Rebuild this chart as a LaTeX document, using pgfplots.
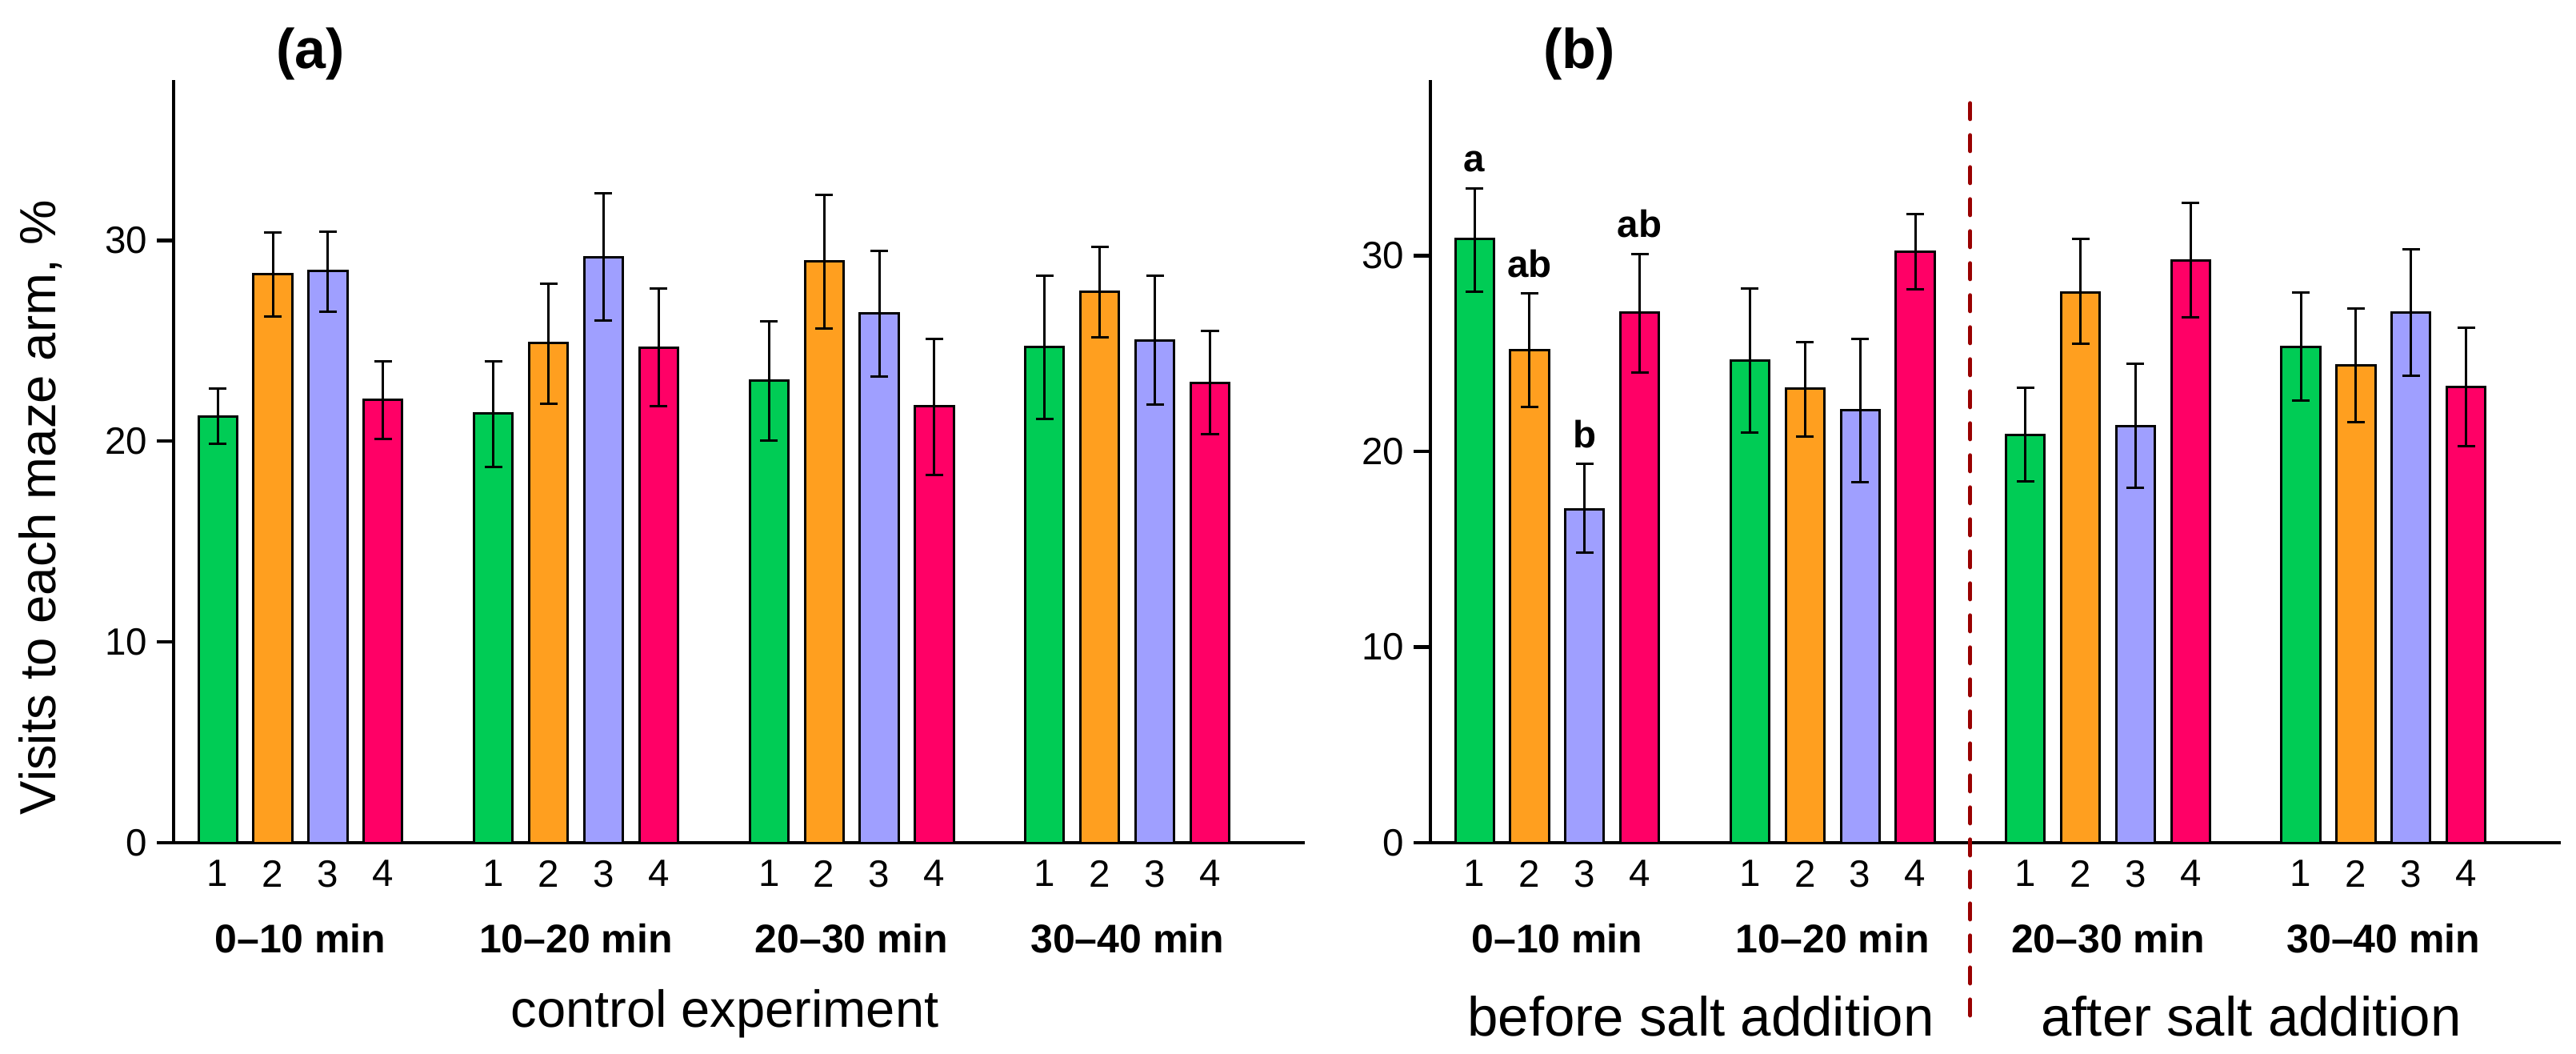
\documentclass[border=0pt]{standalone}
\usepackage{pgfplots}
\pgfplotsset{compat=1.18}
\usepackage{pgfplotstable}
\usepackage{fontspec}
\setmainfont{Liberation Sans}
\definecolor{cgreen}{HTML}{00CC55}
\definecolor{corange}{HTML}{FF9F1F}
\definecolor{clav}{HTML}{9F9FFF}
\definecolor{cpink}{HTML}{FF0066}
\definecolor{cdash}{HTML}{990000}

\pgfplotstableread{
x y ep em
0 21.24 1.36 1.37
5 21.37 2.61 2.64
10 23.01 2.94 2.98
15 24.68 3.55 3.58
}\AG
\pgfplotstableread{
x y ep em
1 28.33 2.07 2.13
6 24.88 2.95 3.01
11 28.96 3.31 3.34
16 27.42 2.25 2.24
}\AO
\pgfplotstableread{
x y ep em
2 28.46 1.97 2.01
7 29.16 3.18 3.17
12 26.35 3.11 3.14
17 25.02 3.21 3.18
}\AL
\pgfplotstableread{
x y ep em
3 22.04 1.94 1.94
8 24.65 2.94 2.91
13 21.74 3.34 3.41
18 22.88 2.60 2.55
}\AP
\pgfplotstableread{
x y ep em
0 30.86 2.58 2.68
5 24.64 3.68 3.68
10 20.86 2.40 2.41
15 25.33 2.78 2.75
}\BG
\pgfplotstableread{
x y ep em
1 25.19 2.89 2.92
6 23.20 2.40 2.44
11 28.14 2.72 2.64
16 24.40 2.89 2.89
}\BO
\pgfplotstableread{
x y ep em
2 17.04 2.31 2.23
7 22.10 3.64 3.68
12 21.31 3.19 3.17
17 27.11 3.20 3.23
}\BL
\pgfplotstableread{
x y ep em
3 27.08 3.02 3.06
8 30.21 1.92 1.93
13 29.76 2.95 2.92
18 23.30 3.02 3.03
}\BP

\pgfplotsset{
  panel/.style={
    scale only axis,
    height=190.7pt,
    xmin=-0.8, xmax=19.72,
    ymin=0,
    axis x line=bottom, axis y line=left,
    axis line style={-, line width=0.9pt, black},
    tick align=outside,
    major tick length=4.2pt,
    ytick={0,10,20,30},
    ytick style={line width=0.9pt, black},
    xtick={0,1,2,3,5,6,7,8,10,11,12,13,15,16,17,18},
    xticklabels={1,2,3,4,1,2,3,4,1,2,3,4,1,2,3,4},
    xtick style={draw=none},
    /pgf/number format/assume math mode=true,
    tick label style={font=\fontsize{9.5}{11}\selectfont},
    xticklabel style={inner sep=0pt, anchor=north},
    yticklabel style={inner sep=0pt, anchor=east, xshift=-2.2pt},
    clip=false,
  },
  bars/.style={
    ybar, bar width=0.7, bar shift=0pt, draw=black, line width=0.6pt, fill=#1,
    error bars/.cd, y dir=both, y explicit,
    error bar style={line width=0.6pt, black},
    error mark options={line width=0.6pt, black, mark size=2.2pt, rotate=90},
  },
}

\begin{document}
\begin{tikzpicture}
\useasboundingbox (0,0) rectangle (644pt,263.2pt);

\begin{axis}[panel, width=282.8pt, ymax=38, at={(43.4pt,52.6pt)}, anchor=south west]
\addplot[bars=cgreen] table[x=x,y=y,y error plus=ep,y error minus=em]{\AG};
\addplot[bars=corange] table[x=x,y=y,y error plus=ep,y error minus=em]{\AO};
\addplot[bars=clav] table[x=x,y=y,y error plus=ep,y error minus=em]{\AL};
\addplot[bars=cpink] table[x=x,y=y,y error plus=ep,y error minus=em]{\AP};
\foreach \gx/\gl in {1.5/0–10 min,6.5/10–20 min,11.5/20–30 min,16.5/30–40 min}{
  \edef\temp{\noexpand\node[font=\noexpand\fontsize{10}{12}\noexpand\bfseries\noexpand\selectfont] at (axis cs:\gx,-4.78) {\gl};}
  \temp
}
\end{axis}

\begin{axis}[panel, width=282.6pt, ymax=39, at={(357.6pt,52.6pt)}, anchor=south west]
\addplot[bars=cgreen] table[x=x,y=y,y error plus=ep,y error minus=em]{\BG};
\addplot[bars=corange] table[x=x,y=y,y error plus=ep,y error minus=em]{\BO};
\addplot[bars=clav] table[x=x,y=y,y error plus=ep,y error minus=em]{\BL};
\addplot[bars=cpink] table[x=x,y=y,y error plus=ep,y error minus=em]{\BP};
\foreach \gx/\gl in {1.5/0–10 min,6.5/10–20 min,11.5/20–30 min,16.5/30–40 min}{
  \edef\temp{\noexpand\node[font=\noexpand\fontsize{10}{12}\noexpand\bfseries\noexpand\selectfont] at (axis cs:\gx,-4.91) {\gl};}
  \temp
}
\draw[cdash, line width=1pt, line cap=round, dash pattern=on 4pt off 4pt] (axis cs:9,37.8) -- (axis cs:9,-9.3);
\node[font=\fontsize{9.5}{11}\bfseries\selectfont, anchor=south, inner sep=0pt, yshift=3.8pt] at (axis cs:0,33.44) {a};
\node[font=\fontsize{9.5}{11}\bfseries\selectfont, anchor=south, inner sep=0pt, yshift=3.8pt] at (axis cs:1,28.08) {ab};
\node[font=\fontsize{9.5}{11}\bfseries\selectfont, anchor=south, inner sep=0pt, yshift=3.8pt] at (axis cs:2,19.35) {b};
\node[font=\fontsize{9.5}{11}\bfseries\selectfont, anchor=south, inner sep=0pt, yshift=3.8pt] at (axis cs:3,30.10) {ab};
\end{axis}

\node[font=\fontsize{14}{16}\bfseries\selectfont] at (77.6pt,249.8pt) {(a)};
\node[font=\fontsize{14}{16}\bfseries\selectfont] at (394.8pt,249.8pt) {(b)};
\node[font=\fontsize{12.7}{15}\selectfont, rotate=90] at (10.2pt,136.4pt) {Visits to each maze arm, \%};
\node[font=\fontsize{13}{15}\selectfont] at (181.2pt,9.8pt) {control experiment};
\node[font=\fontsize{13.8}{16}\selectfont] at (425.2pt,9.2pt) {before salt addition};
\node[font=\fontsize{13.8}{16}\selectfont] at (562.8pt,9.2pt) {after salt addition};
\end{tikzpicture}
\end{document}
